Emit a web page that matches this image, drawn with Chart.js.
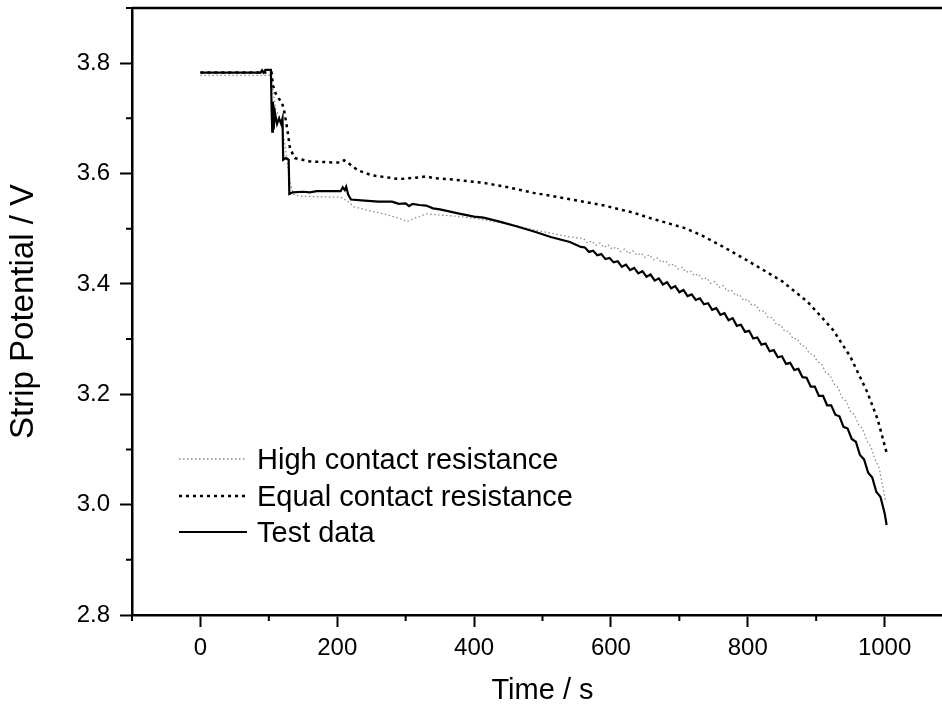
<!DOCTYPE html>
<html>
<head>
<meta charset="utf-8">
<title>Strip Potential</title>
<script src="https://cdn.jsdelivr.net/npm/chart.js@4.4.1/dist/chart.umd.min.js"></script>
<style>
  html, body { margin: 0; padding: 0; background: #fff; overflow: hidden; }
  #chart { display: block; }
</style>
</head>
<body>
<canvas id="chart" width="960" height="708"></canvas>
<script>
// series (time in s, potential in V)
const highT = [0, 50, 100, 103, 106, 110, 117, 124, 131, 136, 146, 170, 205, 215, 224, 245, 268, 290, 302, 315, 331, 350, 380, 410, 438, 463, 487, 512, 536,
  560, 566, 572, 578, 584, 590, 596, 602, 608, 614, 620, 626, 632, 638, 644, 650, 656, 662, 668, 674, 680, 686, 692, 698, 704, 710, 716, 722, 728, 734, 740, 746, 752, 758, 764, 770, 776, 782, 788, 794, 800, 806, 812, 818, 824, 830, 836, 842, 848, 854, 860, 866, 872, 878, 884, 890, 896, 902, 908, 914, 920, 926, 932, 938, 944, 950, 956, 962, 968, 974, 980, 986, 992, 998, 1001];
const highV = [3.778, 3.778, 3.778, 3.778, 3.75, 3.716, 3.70, 3.649, 3.583, 3.562, 3.559, 3.558, 3.557, 3.55, 3.54, 3.533, 3.527, 3.519, 3.513, 3.52, 3.527, 3.525, 3.522, 3.517, 3.511, 3.505, 3.498, 3.492, 3.486,
  3.482, 3.474, 3.478, 3.470, 3.474, 3.466, 3.471, 3.463, 3.467, 3.459, 3.463, 3.455, 3.460, 3.452, 3.456, 3.448, 3.453, 3.444, 3.447, 3.439, 3.442, 3.433, 3.436, 3.427, 3.430, 3.421, 3.424, 3.415, 3.418, 3.408, 3.411, 3.401, 3.404, 3.394, 3.397, 3.387, 3.389, 3.379, 3.381, 3.370, 3.372, 3.361, 3.362, 3.350, 3.351, 3.339, 3.339, 3.326, 3.326, 3.314, 3.314, 3.301, 3.301, 3.289, 3.287, 3.274, 3.272, 3.259, 3.255, 3.239, 3.235, 3.219, 3.212, 3.194, 3.187, 3.169, 3.163, 3.145, 3.137, 3.116, 3.105, 3.082, 3.067, 3.029, 3.008];

const equalT = [0, 50, 100, 104, 106, 110, 115, 119, 123, 127, 131, 138, 160, 195, 205, 210, 215, 230, 250, 290, 320, 330, 340, 370, 414, 450, 487, 520, 560, 590, 633, 658, 706, 731, 760, 800, 850, 887, 902, 925, 950, 975, 990, 1003];
const equalV = [3.783, 3.783, 3.783, 3.783, 3.76, 3.745, 3.735, 3.73, 3.71, 3.68, 3.645, 3.628, 3.622, 3.62, 3.62, 3.624, 3.62, 3.606, 3.597, 3.59, 3.593, 3.595, 3.592, 3.589, 3.583, 3.575, 3.565, 3.558, 3.549, 3.542, 3.529, 3.519, 3.502, 3.489, 3.47, 3.442, 3.405, 3.368, 3.348, 3.316, 3.268, 3.203, 3.154, 3.094];

const testT = [0, 20, 40, 60, 80, 88, 90, 92, 95, 100, 103, 104, 105, 106, 107, 109, 112, 115, 118, 120, 121, 125, 129, 130, 135, 150, 160, 170, 180, 190, 200, 205, 208, 211, 213, 216, 220, 240, 260, 280, 290, 300, 305, 310, 320, 330, 340, 350, 365, 380, 400, 414, 440, 463, 490, 512, 540, 556,
  562, 568, 574, 580, 586, 592, 598, 604, 610, 616, 622, 628, 634, 640, 646, 652, 658, 664, 670, 676, 682, 688, 694, 700, 706, 712, 718, 724, 730, 736, 742, 748, 754, 760, 766, 772, 778, 784, 790, 796, 802, 808, 814, 820, 826, 832, 838, 844, 850, 856, 862, 868, 874, 880, 886, 892, 898, 904, 910, 916, 922, 928, 934, 940, 946, 952, 958, 964, 970, 976, 982, 988, 994, 1000, 1003];
const testV = [3.783, 3.783, 3.783, 3.783, 3.783, 3.783, 3.787, 3.783, 3.788, 3.788, 3.788, 3.72, 3.676, 3.73, 3.68, 3.71, 3.69, 3.70, 3.69, 3.70, 3.625, 3.628, 3.625, 3.563, 3.566, 3.567, 3.566, 3.568, 3.568, 3.568, 3.568, 3.568, 3.575, 3.57, 3.576, 3.562, 3.553, 3.551, 3.549, 3.549, 3.545, 3.546, 3.541, 3.545, 3.543, 3.542, 3.537, 3.535, 3.531, 3.527, 3.522, 3.52, 3.512, 3.504, 3.494, 3.485, 3.476, 3.467,
  3.466, 3.458, 3.460, 3.452, 3.454, 3.445, 3.447, 3.439, 3.441, 3.431, 3.435, 3.425, 3.429, 3.419, 3.423, 3.413, 3.417, 3.406, 3.410, 3.399, 3.403, 3.392, 3.396, 3.385, 3.389, 3.378, 3.381, 3.371, 3.374, 3.363, 3.365, 3.353, 3.356, 3.344, 3.347, 3.334, 3.338, 3.324, 3.326, 3.313, 3.315, 3.301, 3.303, 3.290, 3.292, 3.278, 3.280, 3.267, 3.269, 3.255, 3.257, 3.244, 3.246, 3.231, 3.230, 3.214, 3.214, 3.197, 3.197, 3.180, 3.180, 3.163, 3.160, 3.141, 3.138, 3.119, 3.114, 3.090, 3.082, 3.058, 3.049, 3.023, 3.014, 2.985, 2.963];

const legendLabels = ["High contact resistance", "Equal contact resistance", "Test data"];
const xMajorTicks = [0, 200, 400, 600, 800, 1000];
const xMinorTicks = [-100, 100, 300, 500, 700, 900, 1100];
const yMajorTicks = [2.8, 3.0, 3.2, 3.4, 3.6, 3.8];
const yMinorTicks = [2.9, 3.1, 3.3, 3.5, 3.7, 3.9];

const FONT = "'Liberation Sans', Arial, sans-serif";

function toPoints(ts, vs) {
  return ts.map((t, i) => ({ x: t, y: vs[i] }));
}

// top/right frame, minor ticks and the in-plot legend
const framePlugin = {
  id: "frame",
  afterDraw(chart) {
    const ctx = chart.ctx;
    const area = chart.chartArea;
    const xs = chart.scales.x;
    const ys = chart.scales.y;
    ctx.save();
    ctx.strokeStyle = "#000";
    ctx.lineWidth = 2.5;
    ctx.beginPath();
    ctx.moveTo(area.left, area.top);
    ctx.lineTo(area.right, area.top);
    ctx.lineTo(area.right, area.bottom);
    ctx.stroke();

    ctx.lineWidth = 2;
    ctx.beginPath();
    xMinorTicks.forEach(v => {
      const px = xs.getPixelForValue(v);
      ctx.moveTo(px, area.bottom);
      ctx.lineTo(px, area.bottom + 6);
    });
    yMinorTicks.forEach(v => {
      const py = ys.getPixelForValue(v);
      ctx.moveTo(area.left, py);
      ctx.lineTo(area.left - 6, py);
    });
    ctx.stroke();

    // legend
    const rows = [156, 119, 83];
    chart.data.datasets.forEach((ds, i) => {
      const y = area.bottom - rows[i];
      ctx.strokeStyle = ds.borderColor;
      ctx.lineWidth = ds.borderWidth;
      ctx.setLineDash(ds.borderDash || []);
      ctx.beginPath();
      ctx.moveTo(area.left + 47, y);
      ctx.lineTo(area.left + 115, y);
      ctx.stroke();
      ctx.setLineDash([]);
      ctx.fillStyle = "#000";
      ctx.font = "29px " + FONT;
      ctx.textAlign = "left";
      ctx.textBaseline = "alphabetic";
      ctx.fillText(legendLabels[i], area.left + 125, y + 10);
    });
    ctx.restore();
  }
};

new Chart(document.getElementById("chart"), {
  type: "line",
  data: {
    datasets: [
      {
        label: legendLabels[0],
        data: toPoints(highT, highV),
        borderColor: "#8c8c8c",
        borderWidth: 1.3,
        borderDash: [1.5, 2.5],
        pointRadius: 0,
        order: 2
      },
      {
        label: legendLabels[1],
        data: toPoints(equalT, equalV),
        borderColor: "#000",
        borderWidth: 2.5,
        borderDash: [3, 4],
        pointRadius: 0,
        order: 1
      },
      {
        label: legendLabels[2],
        data: toPoints(testT, testV),
        borderColor: "#000",
        borderWidth: 2.2,
        pointRadius: 0,
        order: 0
      }
    ]
  },
  options: {
    responsive: false,
    animation: false,
    devicePixelRatio: 1,
    layout: { padding: { left: 0, top: 8, right: 7, bottom: 0 } },
    plugins: {
      legend: { display: false },
      tooltip: { enabled: false }
    },
    scales: {
      x: {
        type: "linear",
        min: -100,
        max: 1100,
        afterBuildTicks: s => { s.ticks = xMajorTicks.map(v => ({ value: v })); },
        afterFit: s => { s.height = 93; s.paddingLeft = 0; s.paddingRight = 0; },
        grid: { drawOnChartArea: false, drawTicks: true, tickLength: 12, tickWidth: 2, tickColor: "#000" },
        border: { color: "#000", width: 2.5 },
        ticks: { color: "#000", font: { family: FONT, size: 24 }, padding: 7, maxRotation: 0, autoSkip: false, callback: v => String(v) },
        title: { display: true, text: "Time / s", color: "#000", font: { family: FONT, size: 29 }, padding: { top: 0, bottom: 0 } }
      },
      y: {
        type: "linear",
        min: 2.8,
        max: 3.9,
        afterBuildTicks: s => { s.ticks = yMajorTicks.map(v => ({ value: v })); },
        afterFit: s => { s.width = 132; s.paddingTop = 0; s.paddingBottom = 0; },
        grid: { drawOnChartArea: false, drawTicks: true, tickLength: 12, tickWidth: 2, tickColor: "#000" },
        border: { color: "#000", width: 2.5 },
        ticks: { color: "#000", font: { family: FONT, size: 24 }, padding: 10, autoSkip: false, callback: v => v.toFixed(1) },
        title: { display: true, text: "Strip Potential / V", color: "#000", font: { family: FONT, size: 33 }, padding: { top: 4, bottom: 0 } }
      }
    }
  },
  plugins: [framePlugin]
});
</script>
</body>
</html>
